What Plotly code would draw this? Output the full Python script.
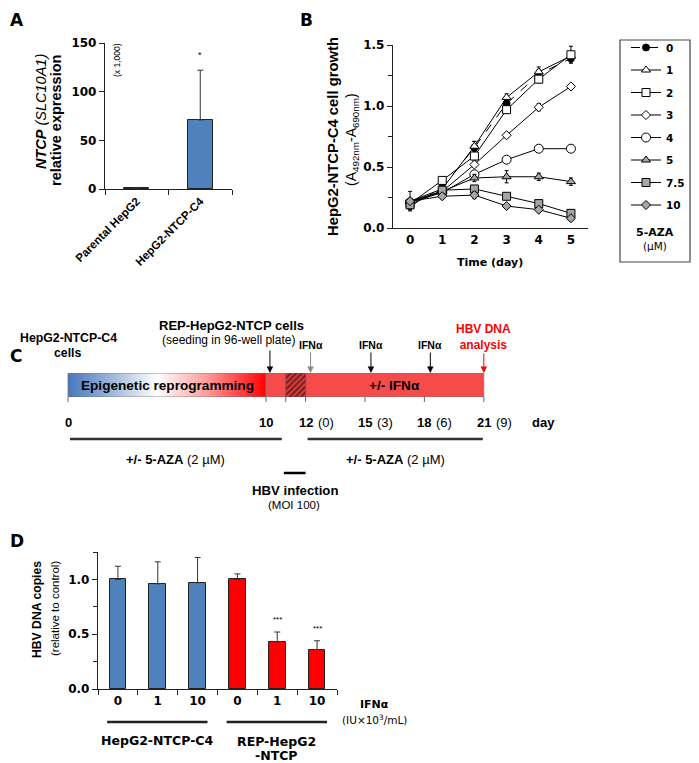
import plotly.graph_objects as go

W, H = 699, 763
OFF = 8  # page body margin around the figure
FW, FH = W - OFF, H - OFF
SANS = "Liberation Sans, Arial, sans-serif"
WIDE = "DejaVu Sans, sans-serif"
INK = "#222222"
BLUE = "#4f81bd"
RED = "#ff0000"


def px(x):
    return (x - OFF) / FW


def py(y):
    return 1 - (y - OFF) / FH


# ---- A: NTCP expression
a_cells = ["Parental HepG2", "HepG2-NTCP-C4"]
a_expr = [1.0, 71.0]
a_err = [0.6, 51.0]
a_sig = ["", "*"]

# ---- B: cell growth under 5-AZA
b_days = [0, 1, 2, 3, 4, 5]
b_doses = ["0", "1", "2", "3", "4", "5", "7.5", "10"]
b_aza0 = [0.18, 0.33, 0.66, 1.02, 1.26, 1.39]
b_aza1 = [0.22, 0.32, 0.67, 1.07, 1.28, 1.41]
b_aza2 = [0.20, 0.39, 0.59, 0.97, 1.22, 1.42]
b_aza3 = [0.21, 0.30, 0.52, 0.76, 0.99, 1.16]
b_aza4 = [0.21, 0.29, 0.44, 0.56, 0.65, 0.65]
b_aza5 = [0.22, 0.30, 0.41, 0.42, 0.42, 0.38]
b_aza75 = [0.19, 0.31, 0.32, 0.26, 0.20, 0.12]
b_aza10 = [0.22, 0.26, 0.27, 0.18, 0.15, 0.08]
b_err0 = [0.03, 0.03, 0.05, 0.03, 0.04, 0.03]
b_err1 = [0.08, 0.02, 0.04, 0.03, 0.04, 0.03]
b_err2 = [0.02, 0.02, 0.04, 0.03, 0.03, 0.07]
b_err3 = [0.02, 0.02, 0.02, 0.02, 0.03, 0.02]
b_err4 = [0.02, 0.02, 0.02, 0.02, 0.01, 0.01]
b_err5 = [0.02, 0.02, 0.03, 0.05, 0.03, 0.03]
b_err75 = [0.02, 0.02, 0.02, 0.02, 0.02, 0.03]
b_err10 = [0.02, 0.02, 0.03, 0.01, 0.01, 0.01]

# ---- C: timeline (days)
c_phase_start = [0, 10, 11, 12]
c_phase_end = [10, 11, 12, 21]
c_ticks = [0, 10, 11, 12, 15, 18, 21]
c_day_labels = [0, 10, 12, 15, 18, 21]
c_day_sub = ["", "", "(0)", "(3)", "(6)", "(9)"]
c_seed_day = 10.2
c_ifn_days = [12.25, 15.3, 18.3]
c_analysis_day = 21
c_aza_spans = [(0.1, 10.8), (12.1, 20.95)]
c_infection_span = (10.9, 12.0)

# ---- D: HBV DNA copies
d_ifn = ["0", "1", "10"]
d_c4 = [1.00, 0.96, 0.97]
d_c4_err = [0.12, 0.20, 0.23]
d_rep = [1.00, 0.43, 0.36]
d_rep_err = [0.05, 0.09, 0.08]
d_rep_sig = ["", "***", "***"]

fig = go.Figure()

# A bars
fig.add_trace(go.Bar(
    x=a_cells, y=a_expr, width=0.4,
    marker=dict(color=BLUE, line=dict(color=INK, width=1)),
    error_y=dict(type="data", array=a_err, arrayminus=[0] * len(a_err),
                 symmetric=False, color="#333", thickness=1, width=3),
    xaxis="x", yaxis="y", showlegend=False,
))

# B lines
b_series = [b_aza0, b_aza1, b_aza2, b_aza3, b_aza4, b_aza5, b_aza75, b_aza10]
b_errs = [b_err0, b_err1, b_err2, b_err3, b_err4, b_err5, b_err75, b_err10]
b_symbols = ["circle", "triangle-up", "square", "diamond", "circle",
             "triangle-up", "square", "diamond"]
b_fills = ["black", "white", "white", "white", "white", "#a6a6a6", "#a6a6a6", "#a6a6a6"]
b_sizes = [7, 8, 8, 7, 9, 8, 8, 7]
for i, dose in enumerate(b_doses):
    fig.add_trace(go.Scatter(
        x=b_days, y=b_series[i], name=dose, legendgroup=dose,
        mode="lines+markers",
        line=dict(color="black", width=1, dash="dash" if i == 0 else "solid"),
        marker=dict(symbol=b_symbols[i], size=b_sizes[i], color=b_fills[i],
                    line=dict(color="black", width=1)),
        error_y=dict(type="data", array=b_errs[i], color="black", thickness=1, width=2),
        xaxis="x2", yaxis="y2",
    ))

# C timeline bar
seg_x = lambda s, e: [s, e, e, s, s]
seg_y = [0, 0, 1, 1, 0]
fig.add_trace(go.Scatter(
    x=seg_x(c_phase_start[0], c_phase_end[0]), y=seg_y, mode="lines", fill="toself",
    fillgradient=dict(type="horizontal", colorscale=[
        [0, "#4777bd"], [0.22, "#9db6db"], [0.45, "#ffffff"],
        [0.7, "#ff9c9c"], [1, "#ff0000"]]),
    line=dict(color="#777", width=0.8), hoverinfo="skip",
    xaxis="x3", yaxis="y3", showlegend=False,
))
for k in (1, 3):
    fig.add_trace(go.Scatter(
        x=seg_x(c_phase_start[k], c_phase_end[k]), y=seg_y, mode="lines", fill="toself",
        fillcolor="#f54b4b", line=dict(color="#777", width=0.8), hoverinfo="skip",
        xaxis="x3", yaxis="y3", showlegend=False,
    ))
fig.add_trace(go.Scatter(
    x=seg_x(c_phase_start[2], c_phase_end[2]), y=seg_y, mode="lines", fill="toself",
    fillcolor="#f54b4b",
    fillpattern=dict(shape="/", fgcolor="black", bgcolor="#e84040", size=4, solidity=0.55),
    line=dict(color="#555", width=0.8), hoverinfo="skip",
    xaxis="x3", yaxis="y3", showlegend=False,
))

# D bars
d_cats_c4 = ["C4 " + v for v in d_ifn]
d_cats_rep = ["REP " + v for v in d_ifn]
for cats, vals, errs, col in ((d_cats_c4, d_c4, d_c4_err, BLUE),
                              (d_cats_rep, d_rep, d_rep_err, RED)):
    fig.add_trace(go.Bar(
        x=cats, y=vals, width=0.42,
        marker=dict(color=col, line=dict(color=INK, width=1)),
        error_y=dict(type="data", array=errs, arrayminus=[0] * len(errs),
                     symmetric=False, color="#333", thickness=1, width=3),
        xaxis="x4", yaxis="y4", showlegend=False,
    ))

axis_style = dict(showline=True, linecolor=INK, linewidth=1.3, ticks="outside",
                  ticklen=5, tickwidth=1.3, tickcolor=INK, showgrid=False,
                  zeroline=False, tickfont=dict(family=WIDE, size=12, color="black", weight="bold"))

day_px = 19.8
c_x0 = -(68 - OFF) / day_px

fig.update_layout(
    width=FW, height=FH, margin=dict(l=0, r=0, t=0, b=0, autoexpand=False),
    paper_bgcolor="white", plot_bgcolor="white",
    font=dict(family=SANS, color="black"),
    bargap=0,
    xaxis=dict(axis_style, domain=[px(105), px(232)], anchor="y", type="category",
               tickson="boundaries", tickangle=-45,
               tickfont=dict(family=SANS, size=11.5, color="black", weight="bold")),
    yaxis=dict(axis_style, domain=[py(189), py(43)], anchor="x", range=[0, 150],
               tickvals=[0, 50, 100, 150]),
    xaxis2=dict(axis_style, domain=[px(393), px(588)], anchor="y2", range=[-0.53, 5.53],
                tickvals=b_days, ticks=""),
    yaxis2=dict(axis_style, domain=[py(228), py(45)], anchor="x2", range=[0, 1.5],
                tickvals=[0, 0.5, 1.0, 1.5], tickformat=".1f",
                minor=dict(tickvals=[0.25, 0.75, 1.25], ticks="outside", ticklen=4,
                           tickwidth=1.3, tickcolor=INK)),
    xaxis3=dict(domain=[0, 1], anchor="y3", range=[c_x0, c_x0 + FW / day_px], visible=False),
    yaxis3=dict(domain=[py(397), py(373)], anchor="x3", range=[0, 1], visible=False),
    xaxis4=dict(axis_style, domain=[px(98), px(337)], anchor="y4", type="category",
                tickson="boundaries", tickmode="array",
                tickvals=d_cats_c4 + d_cats_rep, ticktext=d_ifn + d_ifn,
                categoryorder="array", categoryarray=d_cats_c4 + d_cats_rep),
    yaxis4=dict(axis_style, domain=[py(689), py(552)], anchor="x4", range=[0, 1.25],
                tickvals=[0, 0.5, 1.0], tickformat=".1f",
                minor=dict(tickvals=[0.25, 0.75, 1.25], ticks="outside", ticklen=4,
                           tickwidth=1.3, tickcolor=INK)),
    legend=dict(x=px(626), y=py(33), xanchor="left", yanchor="top",
                bgcolor="rgba(0,0,0,0)", borderwidth=0, tracegroupgap=3.5,
                font=dict(family=WIDE, size=10.5, color="black", weight="bold")),
)

ann = []
shapes = []


def label(x, y, text, size, family=SANS, **kw):
    d = dict(x=px(x), y=py(y), xref="paper", yref="paper", text=text, showarrow=False,
             font=dict(family=family, size=size, color=kw.pop("color", "black")),
             xanchor=kw.pop("xanchor", "center"), yanchor=kw.pop("yanchor", "middle"))
    d.update(kw)
    ann.append(d)


# panel letters
for letter, x, y in (("A", 8, 8), ("B", 298, 8), ("C", 8, 344), ("D", 8, 529)):
    label(x, y, "<b>%s</b>" % letter, 17, WIDE, xanchor="left", yanchor="top")

# A text
label(41, 112, "<b><i>NTCP</i></b> <i>(SLC10A1)</i>", 14.5, textangle=-90)
label(56, 121, "<b>relative expression</b>", 14.5, textangle=-90)
label(117, 60, "(x 1,000)", 8.5, textangle=-90)
for c, v, e, s in zip(a_cells, a_expr, a_err, a_sig):
    if s:
        ann.append(dict(x=c, y=v + e, xref="x", yref="y", text=s, showarrow=False,
                        yanchor="bottom", yshift=8, font=dict(size=9, family=SANS)))

# B text
label(333, 137, "<b>HepG2-NTCP-C4 cell growth</b>", 14.8, textangle=-90)
label(352, 140, "(A<sub>492nm</sub>-A<sub>690nm</sub>)", 14, textangle=-90)
label(490, 262, "<b>Time (day)</b>", 11, WIDE)
label(655, 232, "<b>5-AZA</b>", 11, WIDE)
label(655, 246, "(µM)", 10.5, WIDE)
shapes.append(dict(type="rect", xref="paper", yref="paper", x0=px(620), x1=px(690),
                   y0=py(40), y1=py(262), line=dict(color="#444", width=1.2)))

# C text
bar_top = py(373)
bar_bot = py(397)


def dlabel(day, y, text, size, **kw):
    d = dict(x=day, y=py(y), xref="x3", yref="paper", text=text, showarrow=False,
             font=dict(family=SANS, size=size, color=kw.pop("color", "black")),
             xanchor=kw.pop("xanchor", "center"), yanchor="middle")
    d.update(kw)
    ann.append(d)


dlabel(0, 338, "<b>HepG2-NTCP-C4</b>", 12.3)
dlabel(0, 353, "<b>cells</b>", 12.3)
dlabel(8.25, 325, "<b>REP-HepG2-NTCP cells</b>", 13)
dlabel(8.1, 340, "(seeding in 96-well plate)", 12)
ann.append(dict(x=c_seed_day, y=bar_top, xref="x3", yref="paper", text="", showarrow=True,
                ax=0, ay=-24, arrowhead=2, arrowsize=1.3, arrowwidth=1, arrowcolor="black"))
for i, dd in enumerate(c_ifn_days):
    ann.append(dict(x=dd, y=bar_top, xref="x3", yref="paper", text="<b>IFNα</b>",
                    showarrow=True, ax=0, ay=-28, arrowhead=2, arrowsize=1.3, arrowwidth=1,
                    arrowcolor="#888" if i == 0 else "black",
                    font=dict(family=SANS, size=10.5, color="black")))
ann.append(dict(x=c_analysis_day, y=bar_top, xref="x3", yref="paper",
                text="<b>HBV DNA<br>analysis</b>", showarrow=True, ax=0, ay=-36,
                arrowhead=2, arrowsize=1.3, arrowwidth=1, arrowcolor=RED,
                font=dict(family=SANS, size=12, color=RED)))
dlabel(5.0, 385, "<b>Epigenetic reprogramming</b>", 13.6)
dlabel(16.5, 385, "<b>+/- IFNα</b>", 13.6)
for dd, sub in zip(c_day_labels, c_day_sub):
    dlabel(dd, 422, "<b>%d</b>" % dd, 13)
    if sub:
        dlabel(dd, 422, sub, 13, xanchor="left", xshift=10)
dlabel(24.0, 422, "<b>day</b>", 13)
for dd in c_ticks:
    shapes.append(dict(type="line", xref="x3", yref="paper", x0=dd, x1=dd,
                       y0=bar_bot, y1=py(402), line=dict(color="#666", width=1)))
for s, e in c_aza_spans:
    shapes.append(dict(type="line", xref="x3", yref="paper", x0=s, x1=e,
                       y0=py(439), y1=py(439), line=dict(color="#333", width=2.5)))
    dlabel((s + e) / 2, 459, "<b>+/- 5-AZA</b> (2 µM)", 13)
shapes.append(dict(type="line", xref="x3", yref="paper", x0=c_infection_span[0],
                   x1=c_infection_span[1], y0=py(473), y1=py(473),
                   line=dict(color="black", width=2.5)))
dlabel(11.45, 491, "<b>HBV infection</b>", 13.2)
dlabel(11.4, 505, "(MOI 100)", 11.5)

# D text
label(37, 610, "<b>HBV DNA copies</b>", 12.2, textangle=-90)
label(55, 609, "(relative to control)", 11.5, textangle=-90)
for c, v, e, s in zip(d_cats_rep, d_rep, d_rep_err, d_rep_sig):
    if s:
        ann.append(dict(x=c, y=v + e, xref="x4", yref="y4", text=s, showarrow=False,
                        yanchor="bottom", yshift=6, font=dict(size=8, family=SANS)))
label(375, 704, "<b>IFNα</b>", 11, WIDE)
label(375, 719, "(IU×10<sup>3</sup>/mL)", 10.5, WIDE)
d_groups = (((-0.27, 2.25), ["HepG2-NTCP-C4"], [740]),
            ((2.73, 5.25), ["REP-HepG2", "-NTCP"], [741, 755]))
for (s, e), lines, ys in d_groups:
    shapes.append(dict(type="line", xref="x4", yref="paper", x0=s, x1=e,
                       y0=py(722), y1=py(722), line=dict(color=INK, width=2.5)))
    for txt, yc in zip(lines, ys):
        ann.append(dict(x=(s + e) / 2, y=py(yc), xref="x4", yref="paper",
                        text="<b>%s</b>" % txt, showarrow=False, yanchor="middle",
                        font=dict(family=WIDE, size=12.5, color="black")))

fig.update_layout(annotations=ann, shapes=shapes)
fig.write_html("out.html")
